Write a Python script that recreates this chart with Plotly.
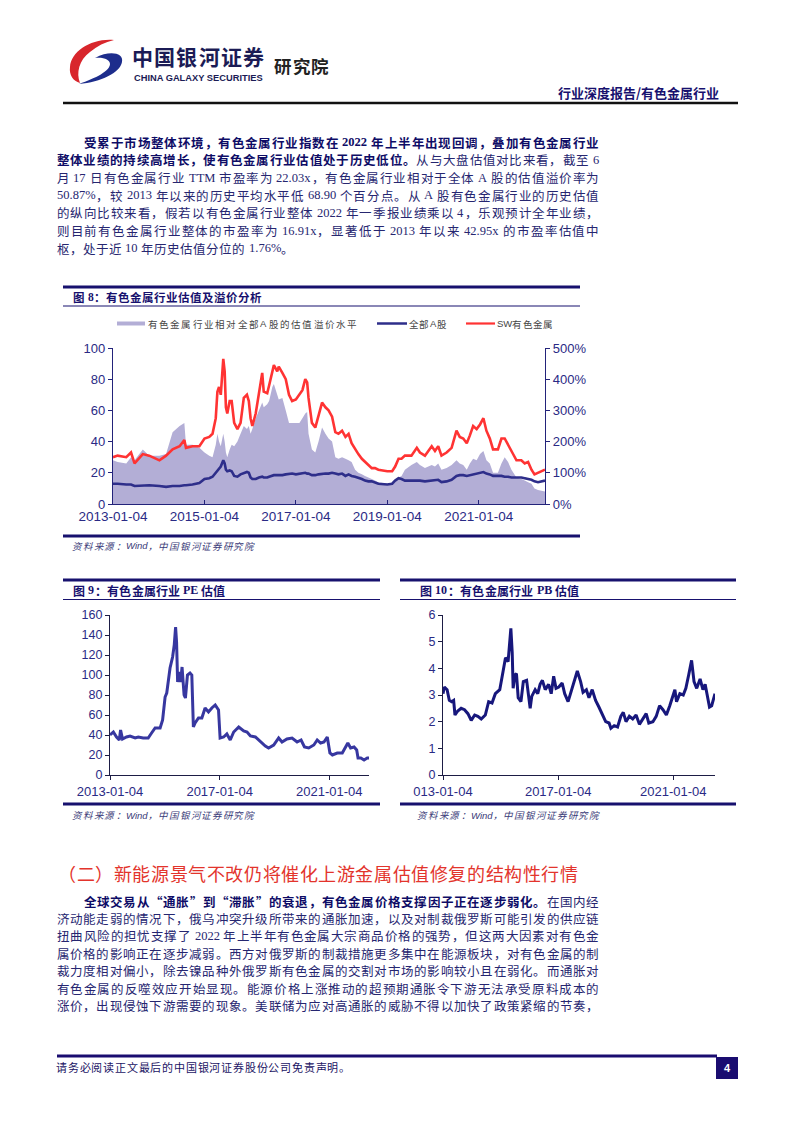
import plotly.graph_objects as go

# ---------------- chart data ----------------
dates8 = ["2013-01-04","2013-02-10","2013-04-20","2013-05-28","2013-06-25","2013-08-30","2013-10-20","2014-01-10","2014-03-04","2014-04-25",
"2014-06-20","2014-07-28","2014-08-10","2014-10-01","2014-11-25","2015-01-05","2015-02-12","2015-03-10","2015-04-05","2015-04-18",
"2015-05-01","2015-05-15","2015-06-04","2015-06-15","2015-06-25","2015-07-06","2015-07-25","2015-08-10","2015-08-30","2015-09-25",
"2015-10-20","2015-11-15","2015-12-10","2015-12-25","2016-01-08","2016-01-22","2016-02-18","2016-03-15","2016-04-10","2016-04-22",
"2016-05-20","2016-06-04","2016-06-30","2016-07-12","2016-08-08","2016-08-20","2016-09-18","2016-10-15","2016-11-10","2016-12-05",
"2017-01-04","2017-02-01","2017-02-25","2017-03-20","2017-04-04","2017-04-15","2017-05-12","2017-06-08","2017-07-04","2017-08-01",
"2017-08-28","2017-09-22","2017-10-20","2017-11-15","2017-12-10","2018-01-08","2018-02-04","2018-03-01","2018-03-25","2018-04-22",
"2018-05-18","2018-06-15","2018-07-10","2018-08-06","2018-09-02","2018-09-28","2018-10-25","2019-01-04","2019-02-12","2019-03-08",
"2019-04-04","2019-04-28","2019-05-25","2019-07-16","2019-08-28","2019-09-22","2019-11-01","2019-12-25","2020-01-20","2020-02-15",
"2020-03-12","2020-04-22","2020-06-01","2020-07-10","2020-08-05","2020-09-02","2020-09-30","2020-10-25","2020-11-20","2020-12-18",
"2021-01-14","2021-02-10","2021-03-06","2021-04-02","2021-04-28","2021-06-06","2021-07-04","2021-07-30","2021-08-26","2021-09-22",
"2021-11-01","2021-12-10","2022-01-06","2022-02-02","2022-03-01","2022-03-25","2022-04-22","2022-06-17"]

sw_nonferrous_pe = [30,31,30,33,26,32,31,28,31,35,
 37,41,36,37,37,42,43,45,55,72,
 75,70,93,85,62,58,66,66,52,48,
 52,68,70,66,55,50,58,72,84,72,
 71,76,84,89,85,88,84,80,70,66,
 67,70,73,80,78,68,52,49,56,65,
 62,60,56,46,45,47,43,45,39,35,
 32,29,27,25,23,23,22,21,21,24,
 29,29,31,31,36,33,31,37,34,37,
 31,33,36,47,43,42,39,44,50,48,
 51,55,47,42,35,35,42,42,38,33,
 28,28,26,27,22,19,20,22]

all_a_pe = [13,13,12.5,12.5,11.5,12,12,11.5,11,11.5,
 11.5,12,12,12.5,13.5,16,16.5,17.5,20,22,
 23,24,28,26,22,21,21.5,21,18,17.5,
 19,20,20.5,20,17,16,16,17,17.5,17,
 17,17.5,18,18.5,18.5,18.5,18.5,19,19.5,19.5,
 19,19.5,20,20,19.5,19.5,18.5,18.5,19,19.5,
 19.5,19.5,20,19.5,19,19.5,18,19,18,17.5,
 17,16,15,14.5,14.5,14,13,12.5,13,15,
 16.5,16,15,15,15,15,14.5,15,15,15.5,
 14,14.5,15.5,18,18.5,18.5,18,18.5,19,19.5,
 20,20.5,19.5,19,18,18,18,17.5,17.5,17,
 17,17,16.5,16,15.5,14.5,14,15]

premium_pct = [140,135,130,150,140,175,155,155,160,230,
 250,260,190,190,180,165,155,150,190,225,
 200,185,225,200,165,150,175,190,185,200,
 225,250,240,250,225,240,275,300,325,310,
 320,330,375,385,350,335,340,300,260,260,
 260,260,275,290,295,225,175,165,200,245,
 225,210,200,150,145,150,145,140,135,110,
 100,95,90,85,80,75,70,65,60,70,
 85,90,110,125,135,125,115,125,120,130,
 110,115,125,140,130,125,110,130,145,140,
 160,170,140,130,100,100,130,150,135,110,
 85,80,75,70,65,50,45,40]

pe_dates = ["2013-01-04","2013-02-18","2013-04-01","2013-05-08","2013-05-25","2013-06-20","2013-08-12","2013-09-28","2013-12-05","2014-01-16",
"2014-03-22","2014-05-28","2014-07-12","2014-08-28","2014-11-03","2014-12-06","2015-01-08","2015-01-30","2015-03-15","2015-04-18",
"2015-05-10","2015-05-28","2015-06-10","2015-06-24","2015-07-16","2015-08-04","2015-08-22","2015-09-18","2015-10-06","2015-11-02",
"2015-12-06","2015-12-30","2016-01-20","2016-02-12","2016-03-28","2016-05-12","2016-06-24","2016-08-08","2016-09-22","2016-11-06",
"2016-12-20","2017-01-10","2017-02-26","2017-04-10","2017-05-25","2017-07-10","2017-09-15","2017-11-20","2018-01-04","2018-02-18",
"2018-04-25","2018-07-01","2018-09-05","2018-10-18","2018-12-25","2019-03-01","2019-04-15","2019-06-20","2019-08-27","2019-11-02",
"2019-12-25","2020-02-08","2020-04-05","2020-06-12","2020-07-27","2020-09-10","2020-10-25","2020-12-08","2021-01-12","2021-02-14",
"2021-04-20","2021-06-26","2021-08-08","2021-09-08","2021-10-15","2021-11-30","2022-01-04","2022-01-22","2022-02-28","2022-04-12",
"2022-05-25","2022-06-17"]
pe_values = [40,43,38,35,45,36,38,39,37,38,
 37,37,42,47,47,55,78,82,107,118,
 130,148,133,93,103,93,108,80,77,100,
 102,100,48,52,57,57,67,63,67,70,
 65,37,38,41,35,43,48,44,43,39,
 38,33,29,27,30,37,33,36,37,33,
 35,28,27,30,35,32,33,38,22,20,
 22,22,28,32,27,28,25,17,17,15,
 17,17]

pb_dates = ["2013-01-04","2013-01-21","2013-02-25","2013-03-25","2013-04-24","2013-05-19","2013-06-05","2013-07-10","2013-08-22","2013-10-04",
"2013-11-16","2013-12-28","2014-02-10","2014-03-22","2014-05-04","2014-06-25","2014-08-06","2014-09-18","2014-10-30","2014-12-25",
"2015-02-06","2015-03-08","2015-04-10","2015-05-01","2015-05-15","2015-06-01","2015-06-13","2015-07-04","2015-07-25","2015-08-16",
"2015-09-20","2015-10-20","2015-12-01","2016-01-15","2016-02-04","2016-03-18","2016-04-20","2016-05-20","2016-06-18","2016-07-24",
"2016-09-05","2016-10-08","2016-11-08","2016-12-08","2017-01-12","2017-02-24","2017-03-28","2017-05-10","2017-06-10","2017-07-22",
"2017-09-04","2017-10-16","2017-11-16","2017-12-28","2018-01-30","2018-03-12","2018-04-24","2018-06-05","2018-07-18","2018-08-30",
"2018-10-12","2018-11-04","2018-12-16","2019-01-28","2019-03-10","2019-04-10","2019-05-15","2019-06-26","2019-08-08","2019-09-20",
"2019-11-01","2019-12-14","2020-01-26","2020-02-28","2020-04-20","2020-06-01","2020-07-14","2020-08-26","2020-10-08","2020-11-20",
"2020-12-24","2021-01-24","2021-02-14","2021-03-28","2021-05-10","2021-06-12","2021-07-18","2021-08-24","2021-09-24","2021-10-28",
"2021-12-10","2022-01-15","2022-02-12","2022-03-12","2022-04-08","2022-05-06","2022-06-17"]
pb_values = [3.05,3.3,3.2,2.8,2.75,2.8,2.25,2.4,2.5,2.45,
 2.3,2.05,2.25,2.2,2.1,2.25,2.75,2.7,3.05,3.2,
 3.9,4.4,4.25,5.0,5.5,4.6,3.25,3.75,3.8,2.9,
 2.75,3.5,3.55,2.5,2.95,3.2,3.05,3.4,3.55,3.2,
 3.4,3.05,3.7,3.25,3.3,3.45,3.05,2.75,3.05,3.5,
 3.9,3.5,3.1,3.2,2.9,3.2,2.8,2.55,2.25,2.0,
 1.95,1.75,1.85,1.8,2.2,2.35,2.0,2.2,2.1,2.25,
 1.9,2.1,2.3,1.95,2.0,2.2,2.6,2.45,2.25,2.6,
 2.9,3.2,2.75,3.05,3.0,3.25,3.75,4.3,3.5,3.25,
 3.6,3.2,3.4,2.95,2.55,2.6,3.05]

ticks8 = ["2013-01-04", "2015-01-04", "2017-01-04", "2019-01-04", "2021-01-04"]
ticks9 = ["2013-01-04", "2017-01-04", "2021-01-04"]
ticktext10 = ["013-01-04", "2017-01-04", "2021-01-04"]
prem_ticks = [0, 100, 200, 300, 400, 500]
prem_ticktext = ["0%", "100%", "200%", "300%", "400%", "500%"]

# ---------------- page text ----------------
para1 = [
    [("受累于市场整体环境，有色金属行业指数在 2022 年上半年出现回调，叠加有色金属行业", True)],
    [("整体业绩的持续高增长，使有色金属行业估值处于历史低位。", True), ("从与大盘估值对比来看，截至 6", False)],
    [("月 17 日有色金属行业 TTM 市盈率为 22.03x，有色金属行业相对于全体 A 股的估值溢价率为", False)],
    [("50.87%，较 2013 年以来的历史平均水平低 68.90 个百分点。从 A 股有色金属行业的历史估值", False)],
    [("的纵向比较来看，假若以有色金属行业整体 2022 年一季报业绩乘以 4，乐观预计全年业绩，", False)],
    [("则目前有色金属行业整体的市盈率为 16.91x，显著低于 2013 年以来 42.95x 的市盈率估值中", False)],
    [("枢，处于近 10 年历史估值分位的 1.76%。", False)],
]
para2 = [
    [("全球交易从“通胀”到“滞胀”的衰退，有色金属价格支撑因子正在逐步弱化。", True), ("在国内经", False)],
    [("济动能走弱的情况下，俄乌冲突升级所带来的通胀加速，以及对制裁俄罗斯可能引发的供应链", False)],
    [("扭曲风险的担忧支撑了 2022 年上半年有色金属大宗商品价格的强势，但这两大因素对有色金", False)],
    [("属价格的影响正在逐步减弱。西方对俄罗斯的制裁措施更多集中在能源板块，对有色金属的制", False)],
    [("裁力度相对偏小，除去镍品种外俄罗斯有色金属的交割对市场的影响较小且在弱化。而通胀对", False)],
    [("有色金属的反噬效应开始显现。能源价格上涨推动的超预期通胀令下游无法承受原料成本的", False)],
    [("涨价，出现侵蚀下游需要的现象。美联储为应对高通胀的威胁不得以加快了政策紧缩的节奏，", False)],
]
section_title = "（二）新能源景气不改仍将催化上游金属估值修复的结构性行情"
source_text = "资料来源：Wind，中国银河证券研究院"

# ---------------- helpers ----------------
W, H = 793, 1122
CJK = "Noto Sans CJK SC"
SERIF = "Liberation Serif"
SANS = "Liberation Sans"
NAVY = "#17116e"
annotations = []
shapes = []

LAT_W = {c: 0.5 for c in "0123456789"}
LAT_W.update({'.': 0.25, ',': 0.25, '%': 0.833, 'x': 0.5, 'T': 0.611, 'M': 0.889, 'A': 0.722,
              'W': 0.944, 'i': 0.25, 'n': 0.5, 'd': 0.5, 'S': 0.6, 'P': 0.556, 'E': 0.611, 'B': 0.667})


def px_x(v):
    return v / W


def px_y(v):
    return 1 - v / H


def is_wide(ch):
    return ord(ch) >= 0x2E80 or ch in "“”"


def tokens_of(segments):
    toks = []
    for text, bold in segments:
        i, sp = 0, 0
        while i < len(text):
            ch = text[i]
            if ch == ' ':
                sp += 1
                i += 1
                continue
            if is_wide(ch):
                toks.append((ch, bold, True, sp))
                i += 1
            else:
                j = i
                while j < len(text) and text[j] != ' ' and not is_wide(text[j]):
                    j += 1
                toks.append((text[i:j], bold, False, sp))
                i = j
            sp = 0
    return toks


def place(segments, y, left, size, right=None, track=0.0, color="#222", bold_color=None,
          lat_font=SERIF, italic=False, lat_scale=1.0):
    toks = tokens_of(segments)
    widths = []
    for t, b, wide, sp in toks:
        if wide:
            widths.append(size)
        else:
            widths.append(sum(LAT_W.get(c, 0.55) for c in t) * size * lat_scale)
    spaces = [sp * 0.25 * size for (_, _, _, sp) in toks]
    n = len(toks)
    if right is not None and n > 1:
        natural = sum(widths) + sum(spaces[1:])
        gap = (right - left - natural) / (n - 1)
    else:
        gap = track
    x = left
    for k, (t, b, wide, sp) in enumerate(toks):
        if k > 0:
            x += gap + spaces[k]
        cx = x + widths[k] / 2
        txt = t
        if b:
            txt = "<b>" + txt + "</b>"
        if italic:
            txt = "<i>" + txt + "</i>"
        col = bold_color if (b and bold_color) else color
        annotations.append(dict(x=px_x(cx), y=px_y(y), xref="paper", yref="paper", text=txt,
                                showarrow=False, xanchor="center", yanchor="middle",
                                font=dict(family=CJK if wide else lat_font, size=size, color=col)))
        x += widths[k]


def hline(x0, x1, y, width, color):
    shapes.append(dict(type="line", xref="paper", yref="paper", x0=px_x(x0), x1=px_x(x1),
                       y0=px_y(y), y1=px_y(y), line=dict(color=color, width=width)))


def rect(x0, y0, x1, y1, color):
    shapes.append(dict(type="rect", xref="paper", yref="paper", x0=px_x(x0), x1=px_x(x1),
                       y0=px_y(y1), y1=px_y(y0), fillcolor=color, line=dict(width=0)))


def path(points_str, color):
    parts = []
    for tok in points_str.split():
        if tok[0].isalpha():
            parts.append(tok)
        else:
            a, b = tok.split(",")
            parts.append("%.5f,%.5f" % (px_x(float(a)), px_y(float(b))))
    shapes.append(dict(type="path", xref="paper", yref="paper", path=" ".join(parts),
                       fillcolor=color, line=dict(width=0)))


# ---------------- header ----------------
path("M 114,40 C 92,38 71,51 70,67 C 69,75 73,81 80,83 C 76,73 79,60 90,52 C 97,46 105,42 114,40 Z", "#d8262c")
path("M 95,58 C 110,50 124,53 122,62 C 120,73 101,82 79,84 C 96,78 110,71 110,64 C 110,60 104,57 95,58 Z", "#1d2d8c")
place([("中国银河证券", True)], 56, 132, 21, right=264, color="#1b1b55")
annotations.append(dict(x=px_x(198), y=px_y(77.5), xref="paper", yref="paper", showarrow=False,
                        text="<b>CHINA GALAXY SECURITIES</b>", xanchor="center", yanchor="middle",
                        font=dict(family=SANS, size=9.3, color="#1b1b55")))
place([("研究院", True)], 65, 274, 17.5, right=329, color="#222222")
annotations.append(dict(x=px_x(721), y=px_y(92), xref="paper", yref="paper", showarrow=False,
                        text="<b>行业深度报告/有色金属行业</b>", xanchor="right", yanchor="middle",
                        font=dict(family=CJK, size=13, color=NAVY)))
hline(63, 738, 103, 2.5, "#111111")

# ---------------- paragraph 1 ----------------
BODY = "#262670"
BOLD = "#0e0c66"
for i, segs in enumerate(para1):
    y = 142 + 17.75 * i
    left = 84 if i == 0 else 57
    if i == len(para1) - 1:
        place(segs, y, left, 12.5, track=0.5, color=BODY, bold_color=BOLD)
    else:
        place(segs, y, left, 12.5, right=599, color=BODY, bold_color=BOLD)

# ---------------- figure 8 frame ----------------
hline(63, 580, 287, 2.8, NAVY)
hline(63, 580, 306, 1.2, NAVY)
place([("图 8：有色金属行业估值及溢价分析", True)], 297, 73, 11.5, track=0.5, color=NAVY)
# legend
rect(117, 321.5, 145, 325.5, "#b3aed6")
place([("有色金属行业相对全部A股的估值溢价水平", False)], 323.5, 148, 9.5, right=357, color="#444444", lat_font=SANS)
hline(377, 407, 323.5, 2.5, "#2e2e8a")
place([("全部A股", False)], 323.5, 409, 9.5, right=447, color="#444444", lat_font=SANS)
hline(466, 495, 323.5, 2.2, "#ff3333")
place([("SW有色金属", False)], 323.5, 497, 9.5, right=553, color="#444444", lat_font=SANS)
hline(63, 580, 536, 2.8, NAVY)
place([(source_text, False)], 546, 73, 9.5, track=1.2, color="#3a3a78", lat_font=SANS, italic=True)

# ---------------- figure 9 / 10 frames ----------------
hline(63, 380, 580, 2.8, NAVY)
hline(63, 380, 599.5, 1.2, NAVY)
place([("图 9：有色金属行业 PE 估值", True)], 590, 73, 12, track=0.3, color=NAVY)
hline(63, 380, 804, 2.8, NAVY)
place([(source_text, False)], 815, 73, 9.5, track=1.2, color="#3a3a78", lat_font=SANS, italic=True)

hline(400, 736, 580, 2.8, NAVY)
hline(400, 736, 599.5, 1.2, NAVY)
place([("图 10：有色金属行业 PB 估值", True)], 590, 420, 12, track=0.3, color=NAVY)
hline(400, 736, 804, 2.8, NAVY)
place([(source_text, False)], 815, 418, 9.5, track=1.2, color="#3a3a78", lat_font=SANS, italic=True)

# ---------------- section title & paragraph 2 ----------------
place([(section_title, False)], 873, 58, 18, right=578, color="#e3342c")
for i, segs in enumerate(para2):
    y = 901 + 17.4 * i
    left = 84 if i == 0 else 57
    place(segs, y, left, 12.5, right=599, color=BODY, bold_color=BOLD)

# ---------------- footer ----------------
hline(57, 717, 1056, 2.8, "#1a0c70")
rect(716, 1057, 738, 1079, "#1a0c70")
annotations.append(dict(x=px_x(727), y=px_y(1068), xref="paper", yref="paper", showarrow=False,
                        text="<b>4</b>", xanchor="center", yanchor="middle",
                        font=dict(family=SANS, size=11, color="white")))
place([("请务必阅读正文最后的中国银河证券股份公司免责声明。", False)], 1067, 56, 11, track=0.8, color="#1b1464")

# ---------------- traces ----------------
fig = go.Figure()
fig.add_trace(go.Scatter(x=dates8, y=premium_pct, mode="none", fill="tozeroy",
                         fillcolor="#b3aed6", xaxis="x", yaxis="y", showlegend=False))
fig.add_trace(go.Scatter(x=dates8, y=all_a_pe, mode="lines", line=dict(color="#2e2e8a", width=2.6),
                         xaxis="x", yaxis="y2", showlegend=False))
fig.add_trace(go.Scatter(x=dates8, y=sw_nonferrous_pe, mode="lines", line=dict(color="#ff3333", width=2.6),
                         xaxis="x", yaxis="y2", showlegend=False))
fig.add_trace(go.Scatter(x=pe_dates, y=pe_values, mode="lines", line=dict(color="#3737a0", width=3),
                         xaxis="x2", yaxis="y3", showlegend=False))
fig.add_trace(go.Scatter(x=pb_dates, y=pb_values, mode="lines", line=dict(color="#17177c", width=3),
                         xaxis="x3", yaxis="y4", showlegend=False))

AX = "#23237a"
TC = "#2a2a85"
AX2 = "#1d1d45"

common_x = dict(type="date", showgrid=False, zeroline=False, showline=True, linewidth=1.3,
                range=["2013-01-04", "2022-06-17"], automargin=False)
common_y = dict(showgrid=False, zeroline=False, showline=True, linewidth=1.3, ticks="outside", ticklen=4,
                automargin=False)

fig.update_layout(
    width=W, height=H, autosize=False,
    margin=dict(l=0, r=0, t=0, b=0, pad=0, autoexpand=False),
    paper_bgcolor="white", plot_bgcolor="rgba(0,0,0,0)",
    showlegend=False,
    annotations=annotations,
    shapes=shapes,
    xaxis=dict(common_x, domain=[113 / W, 545 / W], anchor="y", tickvals=ticks8, ticktext=ticks8,
               linecolor=AX, ticks="inside", ticklen=4, tickcolor=AX,
               tickfont=dict(family=SANS, size=13.5, color=TC)),
    yaxis=dict(common_y, domain=[1 - 504 / H, 1 - 348 / H], anchor="x", side="right", range=[0, 500],
               tickvals=prem_ticks, ticktext=prem_ticktext, linecolor=AX, tickcolor=AX,
               tickfont=dict(family=SANS, size=13, color=TC)),
    yaxis2=dict(common_y, overlaying="y", anchor="x", side="left", range=[0, 100], dtick=20,
                linecolor=AX, tickcolor=AX, tickfont=dict(family=SANS, size=13, color=TC)),
    xaxis2=dict(common_x, domain=[110 / W, 369 / W], anchor="y3", tickvals=ticks9, ticktext=ticks9,
                linecolor=AX2, ticks="outside", ticklen=4, tickcolor=AX2,
                tickfont=dict(family=SANS, size=13, color=TC)),
    yaxis3=dict(common_y, domain=[1 - 775 / H, 1 - 615 / H], anchor="x2", range=[0, 160], dtick=20,
                linecolor=AX2, tickcolor=AX2, tickfont=dict(family=SANS, size=12.5, color=TC)),
    xaxis3=dict(common_x, domain=[443 / W, 715 / W], anchor="y4", tickvals=ticks9, ticktext=ticktext10,
                linecolor=AX2, ticks="outside", ticklen=4, tickcolor=AX2,
                tickfont=dict(family=SANS, size=13, color=TC)),
    yaxis4=dict(common_y, domain=[1 - 775 / H, 1 - 615 / H], anchor="x3", range=[0, 6], dtick=1,
                linecolor=AX2, tickcolor=AX2, tickfont=dict(family=SANS, size=12.5, color=TC)),
)

fig.write_html("out.html", config={"displayModeBar": False},
               post_script="document.body.style.margin='0';")
